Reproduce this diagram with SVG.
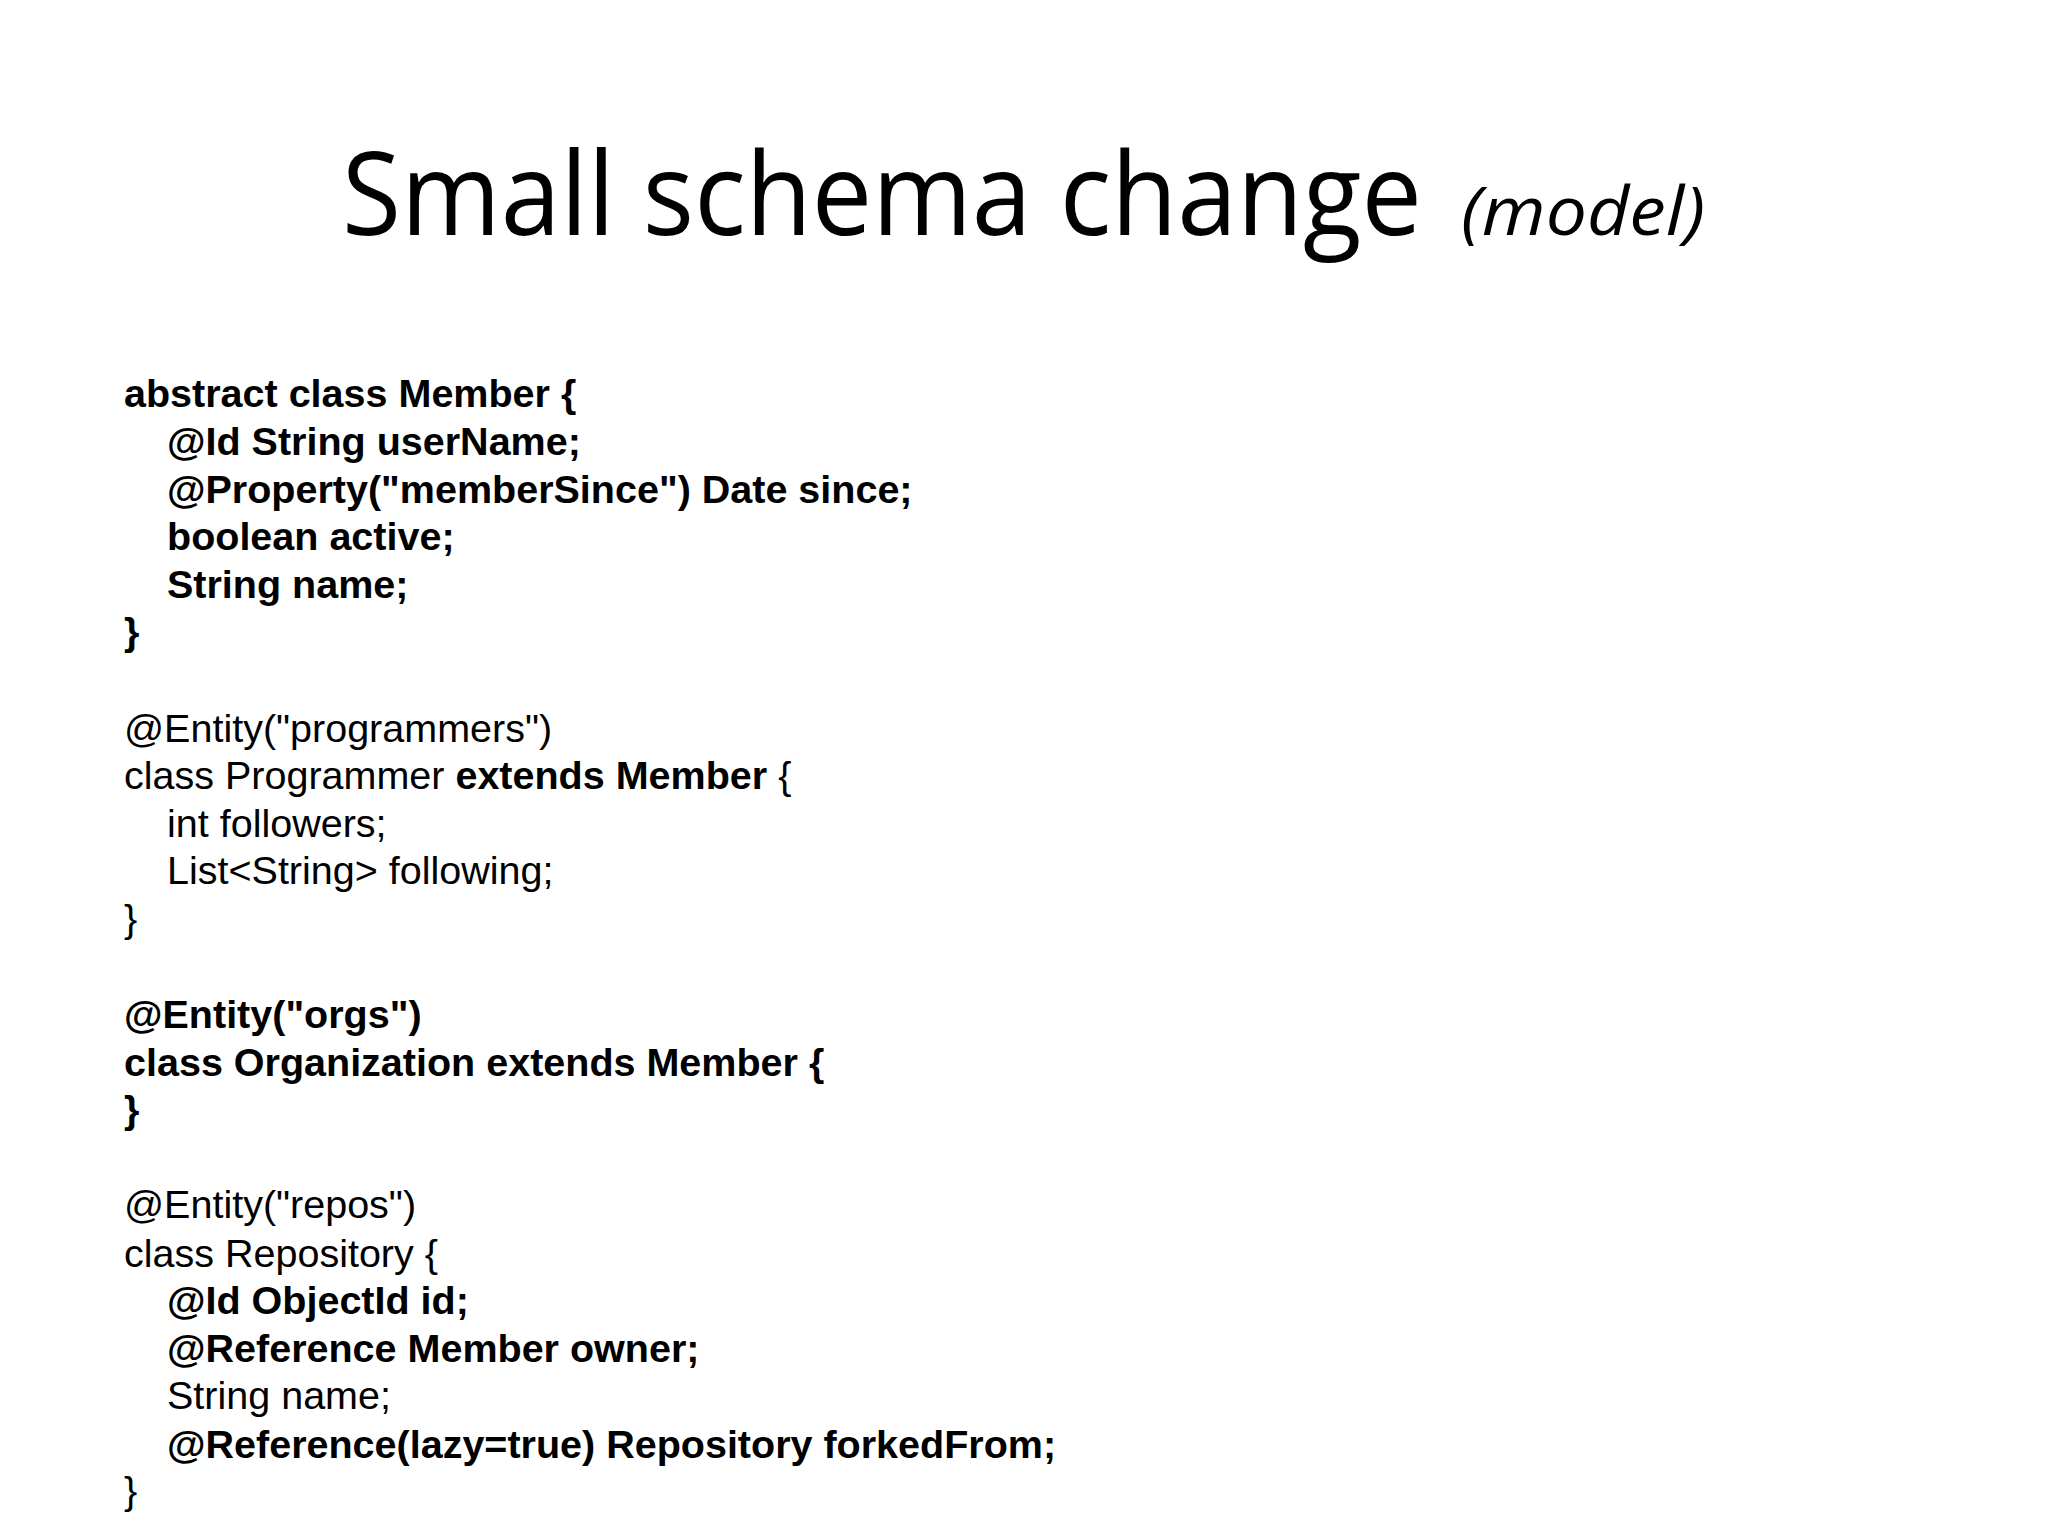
<svg xmlns="http://www.w3.org/2000/svg" width="2048" height="1536" viewBox="0 0 2048 1536">
<style>
.c{font-family:"Liberation Sans",Arial,sans-serif;font-size:39.5px;fill:#000}
.b{font-weight:bold}
.t{font-family:"Open Sans","Noto Sans",sans-serif;fill:#000}
</style>
<rect width="2048" height="1536" fill="#fff"/>
<g id="title">
<text class="t" x="342" y="235" font-size="116" textLength="1080" lengthAdjust="spacingAndGlyphs">Small schema change</text>
<text class="t" x="1461" y="235" font-size="68" font-style="italic" textLength="244" lengthAdjust="spacingAndGlyphs">(model)</text>
</g>
<g id="member">
<text class="c b" x="124" y="407">abstract class Member {</text>
<text class="c b" x="167" y="455">@Id String userName;</text>
<text class="c b" x="167" y="503">@Property("memberSince") Date since;</text>
<text class="c b" x="167" y="550">boolean active;</text>
<text class="c b" x="167" y="598">String name;</text>
<text class="c b" x="124" y="645">}</text>
</g>
<g id="programmer">
<text class="c" x="124" y="742">@Entity("programmers")</text>
<text class="c" x="124" y="789">class Programmer <tspan class="b">extends Member</tspan> {</text>
<text class="c" x="167" y="837">int followers;</text>
<text class="c" x="167" y="884">List&lt;String&gt; following;</text>
<text class="c" x="124" y="932">}</text>
</g>
<g id="organization">
<text class="c b" x="124" y="1028">@Entity("orgs")</text>
<text class="c b" x="124" y="1076">class Organization extends Member {</text>
<text class="c b" x="124" y="1123">}</text>
</g>
<g id="repository">
<text class="c" x="124" y="1218">@Entity("repos")</text>
<text class="c" x="124" y="1267">class Repository {</text>
<text class="c b" x="167" y="1314">@Id ObjectId id;</text>
<text class="c b" x="167" y="1362">@Reference Member owner;</text>
<text class="c" x="167" y="1409">String name;</text>
<text class="c b" x="167" y="1458">@Reference(lazy=true) Repository forkedFrom;</text>
<text class="c" x="124" y="1504">}</text>
</g>
<g id="connectors"/>
</svg>
